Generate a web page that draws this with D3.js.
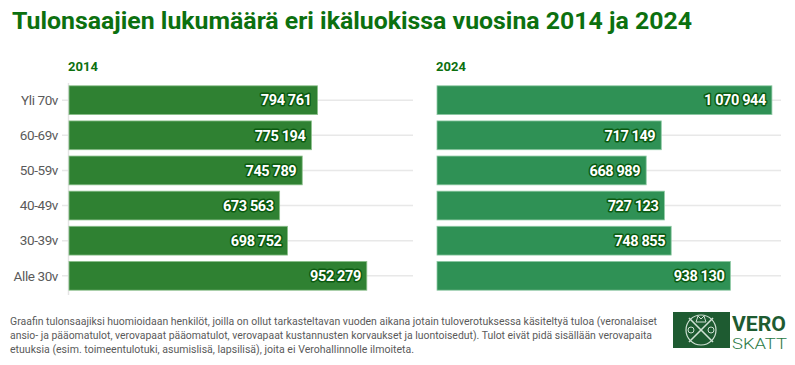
<!DOCTYPE html>
<html>
<head>
<meta charset="utf-8">
<script src="https://cdn.jsdelivr.net/npm/d3@7"></script>
<style>
  body { margin: 0; background: #fff; }
  svg { font-family: Roboto, "Noto Sans", sans-serif; display: block; }
</style>
</head>
<body>
<script>
var categories = ["Yli 70v", "60-69v", "50-59v", "40-49v", "30-39v", "Alle 30v"];
var values2014 = [794761, 775194, 745789, 673563, 698752, 952279];
var values2024 = [1070944, 717149, 668989, 727123, 748855, 938130];
var years = ["2014", "2024"];
var footLines = [
  "Graafin tulonsaajiksi huomioidaan henkilöt, joilla on ollut tarkasteltavan vuoden aikana jotain tuloverotuksessa käsiteltyä tuloa (veronalaiset",
  "ansio- ja pääomatulot, verovapaat pääomatulot, verovapaat kustannusten korvaukset ja luontoisedut). Tulot eivät pidä sisällään verovapaita",
  "etuuksia (esim. toimeentulotuki, asumislisä, lapsilisä), joita ei Verohallinnolle ilmoiteta."
];

var W = 795, H = 365;
var svg = d3.select("body").append("svg").attr("width", W).attr("height", H);

var fmt = function(v) { return d3.format(",")(v).replace(/,/g, " "); };

svg.append("text")
  .attr("x", 12).attr("y", 29)
  .attr("font-size", 23.5).attr("font-weight", 700)
  .attr("fill", "#0c700f")
  .attr("textLength", 680).attr("lengthAdjust", "spacingAndGlyphs")
  .text("Tulonsaajien lukumäärä eri ikäluokissa vuosina 2014 ja 2024");

var panels = [
  { year: years[0], values: values2014, x0: 69, color: "#2f8132", stroke: "#8cc08c", label: true },
  { year: years[1], values: values2024, x0: 437, color: "#2f9155", stroke: "#8fcaa5", label: false }
];

var y = d3.scaleBand().domain(categories).range([83, 293]).paddingInner(0.18).paddingOuter(0.08);

panels.forEach(function(p) {
  var x = d3.scaleLinear().domain([0, 1100000]).range([p.x0, p.x0 + 344]);
  var g = svg.append("g");

  g.append("text")
    .attr("x", p.x0 - 1).attr("y", 71)
    .attr("font-size", 13).attr("font-weight", 700).attr("fill", "#0c700f")
    .text(p.year);

  // gridlines
  g.selectAll(".grid").data(categories).enter().append("line")
    .attr("x1", p.label ? p.x0 - 7 : p.x0).attr("x2", x(1100000))
    .attr("y1", function(d) { return y(d) + y.bandwidth() / 2; })
    .attr("y2", function(d) { return y(d) + y.bandwidth() / 2; })
    .attr("stroke", "#e8e8e8").attr("stroke-width", 1.5);

  if (p.label) {
    g.append("line")
      .attr("x1", p.x0 - 0.5).attr("x2", p.x0 - 0.5)
      .attr("y1", 83).attr("y2", 295)
      .attr("stroke", "#e4e4e4").attr("stroke-width", 1.5);

    g.selectAll(".cat").data(categories).enter().append("text")
      .attr("x", p.x0 - 11)
      .attr("y", function(d) { return y(d) + y.bandwidth() / 2; })
      .attr("dy", "0.35em").attr("text-anchor", "end")
      .attr("font-size", 13.5).attr("fill", "#5a5a5a").attr("letter-spacing", -0.4)
      .text(function(d) { return d; });
  }

  g.selectAll(".bar").data(p.values).enter().append("rect")
    .attr("x", x(0))
    .attr("y", function(d, i) { return y(categories[i]); })
    .attr("width", function(d) { return x(d) - x(0); })
    .attr("height", y.bandwidth())
    .attr("fill", p.color)
    .attr("stroke", p.stroke).attr("stroke-width", 0.8);

  g.selectAll(".val").data(p.values).enter().append("text")
    .attr("x", function(d) { return x(d) - 6; })
    .attr("y", function(d, i) { return y(categories[i]) + y.bandwidth() / 2; })
    .attr("dy", "0.36em").attr("text-anchor", "end")
    .attr("font-size", 14.5).attr("font-weight", 700).attr("letter-spacing", -0.4)
    .attr("fill", "#fff")
    .attr("stroke", "#0b5a10").attr("stroke-width", 3).attr("paint-order", "stroke")
    .attr("stroke-linejoin", "round")
    .text(fmt);
});

// footer
var footW = [647, 642, 404];
svg.selectAll(".foot").data(footLines).enter().append("text")
  .attr("x", 10)
  .attr("y", function(d, i) { return 325 + i * 14; })
  .attr("font-size", 11).attr("fill", "#5a5a5a")
  .attr("textLength", function(d, i) { return footW[i]; })
  .attr("lengthAdjust", "spacingAndGlyphs")
  .text(function(d) { return d; });

// logo
var logo = svg.append("g");
logo.append("rect").attr("x", 673).attr("y", 312).attr("width", 57).attr("height", 36).attr("fill", "#1e5b31");
logo.append("circle").attr("cx", 701).attr("cy", 330).attr("r", 15).attr("fill", "none").attr("stroke", "#cfe0d3").attr("stroke-width", 1.2);
logo.append("line").attr("x1", 689).attr("y1", 342).attr("x2", 713).attr("y2", 318).attr("stroke", "#cfe0d3").attr("stroke-width", 1.6);
logo.append("line").attr("x1", 689).attr("y1", 318).attr("x2", 713).attr("y2", 342).attr("stroke", "#cfe0d3").attr("stroke-width", 1.6);
logo.append("path").attr("d", "M696,322 L698,316 L701,319 L704,316 L706,322 Z").attr("fill", "none").attr("stroke", "#cfe0d3").attr("stroke-width", 1);
logo.append("circle").attr("cx", 691).attr("cy", 330).attr("r", 3).attr("fill", "none").attr("stroke", "#cfe0d3").attr("stroke-width", 1);
logo.append("circle").attr("cx", 711).attr("cy", 330).attr("r", 3).attr("fill", "none").attr("stroke", "#cfe0d3").attr("stroke-width", 1);
logo.append("text").attr("x", 732).attr("y", 331).attr("font-size", 21).attr("font-weight", 700)
  .attr("fill", "#1e5b31").attr("textLength", 54).attr("lengthAdjust", "spacingAndGlyphs").text("VERO");
logo.append("text").attr("x", 732).attr("y", 349).attr("font-size", 14).attr("font-weight", 300)
  .attr("fill", "#2a7a45").attr("textLength", 55).attr("lengthAdjust", "spacingAndGlyphs").text("SKATT");
</script>
</body>
</html>
